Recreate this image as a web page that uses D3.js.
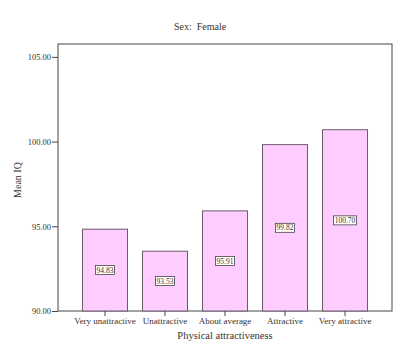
<!DOCTYPE html>
<html><head><meta charset="utf-8">
<script src="https://cdn.jsdelivr.net/npm/d3@7"></script>
<style>body{margin:0;background:#fff}svg{display:block}svg text{font-family:"Liberation Serif","DejaVu Serif",serif !important;white-space:pre}</style>
</head><body>
<svg id="c" width="400" height="356"></svg>
<script>
const categories = ["Very unattractive","Unattractive","About average","Attractive","Very attractive"];
const values = [94.83, 93.53, 95.91, 99.82, 100.70];
const yTicks = [90, 95, 100, 105];
const title = "Sex:  Female";
const xTitle = "Physical attractiveness";
const yTitle = "Mean IQ";

const svg = d3.select("#c");
const L = 58, R = 392, T = 44, B = 311;

const x = d3.scaleBand().domain(categories).range([L, R]).paddingInner(0.25).paddingOuter(0.408);
const y = d3.scaleLinear().domain([90, 105.76]).range([B, T]);

svg.append("rect").attr("x", L).attr("y", T).attr("width", R - L).attr("height", B - T)
  .attr("fill", "#fff").attr("stroke", "#666").attr("stroke-width", 1.2);

svg.selectAll("rect.bar").data(values).join("rect").attr("class", "bar")
  .attr("x", (d, i) => x(categories[i])).attr("width", x.bandwidth())
  .attr("y", d => y(d)).attr("height", d => B - y(d))
  .attr("fill", "#ffccff").attr("stroke", "#6a5a6a").attr("stroke-width", 1);

const yAxis = svg.append("g").attr("transform", `translate(${L},0)`)
  .call(d3.axisLeft(y).tickValues(yTicks).tickFormat(d3.format(".2f")).tickSize(6).tickSizeOuter(0));
yAxis.select(".domain").remove();
yAxis.selectAll("line").attr("stroke", "#444");
yAxis.selectAll("text").attr("font-size", 8.5).attr("fill", "#333").attr("dx", 2);

const xAxis = svg.append("g").attr("transform", `translate(0,${B})`)
  .call(d3.axisBottom(x).tickSize(5).tickSizeOuter(0));
xAxis.select(".domain").remove();
xAxis.selectAll("line").attr("stroke", "#444");
xAxis.selectAll("text").attr("font-size", 9).attr("fill", "#333").attr("dy", "0.5em");

// value labels
const lab = svg.selectAll("g.lab").data(values).join("g").attr("class", "lab")
  .attr("transform", (d, i) => `translate(${x(categories[i]) + x.bandwidth() / 2},${(y(d) + B) / 2})`);
const box = lab.append("rect").attr("y", -4.5).attr("height", 9)
  .attr("fill", "#fff").attr("stroke", "#444").attr("stroke-width", 0.8);
const txt = lab.append("text").attr("text-anchor", "middle").attr("dy", "0.34em")
  .attr("font-size", 7.5).attr("fill", "#333").text(d => d.toFixed(2));
txt.each(function(d, i) {
  const w = this.getBBox().width + 2;
  d3.select(box.nodes()[i]).attr("x", -w / 2).attr("width", w);
});

svg.append("text").attr("x", 200).attr("y", 30).attr("text-anchor", "middle")
  .attr("font-size", 10).attr("fill", "#333").text(title);
svg.append("text").attr("x", 225).attr("y", 339).attr("text-anchor", "middle")
  .attr("font-size", 10.5).attr("fill", "#333").text(xTitle);
svg.append("text").attr("transform", "translate(21,180) rotate(-90)").attr("text-anchor", "middle")
  .attr("font-size", 10).attr("fill", "#333").text(yTitle);
</script>
</body></html>
